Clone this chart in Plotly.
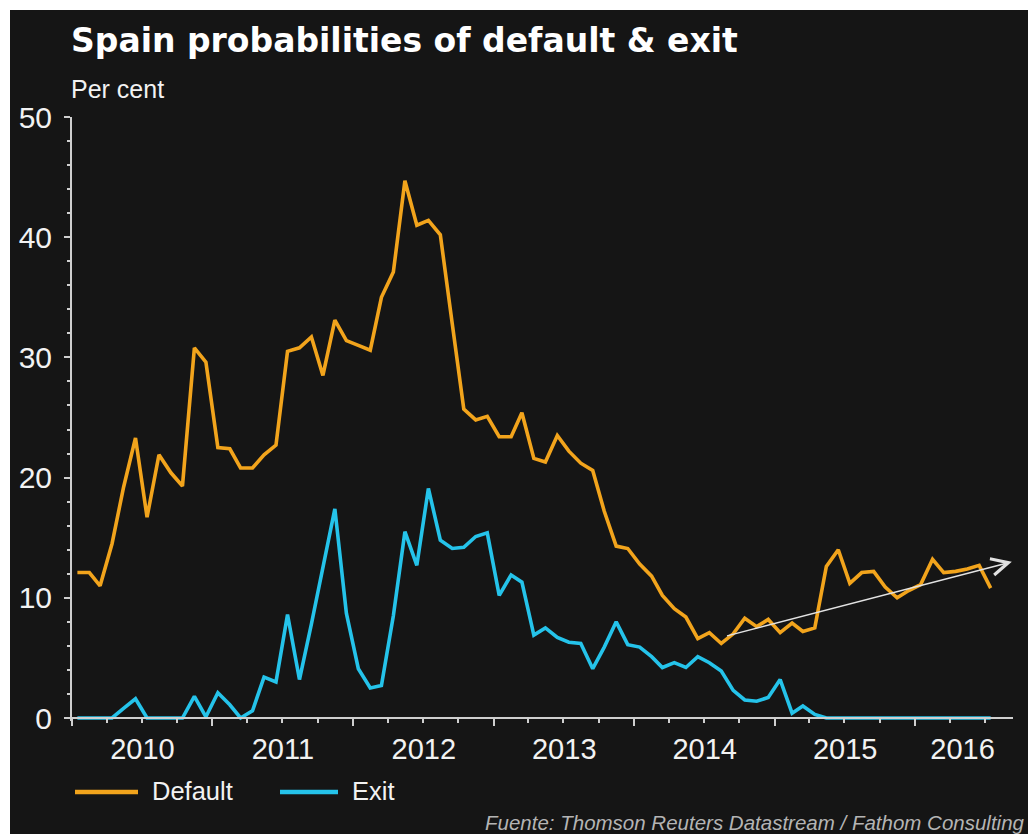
import pandas as pd
import plotly.graph_objects as go

# Monthly probabilities (per cent), Jan 2010 - Jul 2016
DEFAULT_PROB = [
    12.1, 12.1, 11.0, 14.5, 19.2, 23.3, 16.7, 21.9, 20.4, 19.3, 30.8, 29.6,
    22.5, 22.4, 20.8, 20.8, 21.9, 22.7, 30.5, 30.8, 31.7, 28.5, 33.1, 31.4,
    31.0, 30.6, 35.0, 37.1, 44.7, 41.0, 41.4, 40.2, 32.8, 25.7, 24.8, 25.1,
    23.4, 23.4, 25.4, 21.6, 21.3, 23.5, 22.2, 21.2, 20.6, 17.2, 14.3, 14.1,
    12.8, 11.8, 10.2, 9.1, 8.4, 6.6, 7.1, 6.2, 7.0, 8.3, 7.6, 8.2,
    7.1, 7.9, 7.2, 7.5, 12.6, 14.0, 11.2, 12.1, 12.2, 10.9, 10.0, 10.6,
    11.1, 13.2, 12.1, 12.2, 12.4, 12.7, 10.8,
]
EXIT_PROB = [
    0.0, 0.0, 0.0, 0.0, 0.8, 1.6, 0.0, 0.0, 0.0, 0.0, 1.8, 0.1,
    2.1, 1.1, 0.0, 0.6, 3.4, 3.0, 8.6, 3.2, 7.8, 12.4, 17.4, 8.7,
    4.1, 2.5, 2.7, 8.5, 15.5, 12.7, 19.1, 14.8, 14.1, 14.2, 15.1, 15.4,
    10.2, 11.9, 11.3, 6.9, 7.5, 6.7, 6.3, 6.2, 4.1, 5.9, 8.0, 6.1,
    5.9, 5.1, 4.2, 4.6, 4.2, 5.1, 4.6, 3.9, 2.3, 1.5, 1.4, 1.7,
    3.2, 0.4, 1.0, 0.3, 0.0, 0.0, 0.0, 0.0, 0.0, 0.0, 0.0, 0.0,
    0.0, 0.0, 0.0, 0.0, 0.0, 0.0, 0.0,
]
SERIES_NAMES = ["Default", "Exit"]

YEAR_LABELS = ["2010", "2011", "2012", "2013", "2014", "2015", "2016"]
YEAR_LABEL_DATES = ["2010-07-03", "2011-07-03", "2012-07-03", "2013-07-03",
                    "2014-07-03", "2015-07-03", "2016-05-03"]
YEAR_STARTS = ["2010-01-01", "2011-01-01", "2012-01-01", "2013-01-01",
               "2014-01-01", "2015-01-01", "2016-01-01"]
X_RANGE = ["2010-01-01", "2016-09-11"]
Y_TICKS = [0, 10, 20, 30, 40, 50]

# Trend arrow drawn over the default series (date, per cent)
ARROW_TAIL = ("2014-08-26", 6.8)
ARROW_HEAD = ("2016-09-08", 13.0)

months = pd.date_range("2010-01-01", periods=len(DEFAULT_PROB), freq="MS") + pd.Timedelta(days=14)

BG = "#151515"
ORANGE = "#F2A41C"
CYAN = "#25C3EA"
AXIS = "#cfcfcf"
TEXT = "#f2f2f2"

W, H = 1028, 834
L, R, T, B = 72, 15, 117, 113
PW, PH = W - L - R, H - T - B


def fx(px):
    return (px - L) / PW


def fy(py):
    return (H - B - py) / PH


fig = go.Figure()
fig.add_trace(go.Scatter(x=months, y=DEFAULT_PROB, name=SERIES_NAMES[0], mode="lines",
                         line=dict(color=ORANGE, width=3.6), showlegend=False))
fig.add_trace(go.Scatter(x=months, y=EXIT_PROB, name=SERIES_NAMES[1], mode="lines",
                         line=dict(color=CYAN, width=3.6), showlegend=False))
# carrier trace for the year-label axis
fig.add_trace(go.Scatter(x=YEAR_LABEL_DATES, y=[None] * len(YEAR_LABEL_DATES), xaxis="x2",
                         mode="markers", showlegend=False, hoverinfo="skip"))

x_pos = fy(718)

fig.update_layout(
    width=W, height=H,
    margin=dict(l=L, r=R, t=T, b=B),
    paper_bgcolor=BG, plot_bgcolor=BG,
    font=dict(family="Liberation Sans, Arial, sans-serif", color=TEXT),
    hovermode=False,
    xaxis=dict(
        type="date", range=X_RANGE, anchor="free", position=x_pos,
        tickmode="array", tickvals=YEAR_STARTS, ticktext=[""] * len(YEAR_STARTS),
        ticks="outside", ticklen=7, tickwidth=2, tickcolor=AXIS,
        minor=dict(dtick="M3", tick0="2010-01-01", ticks="outside", ticklen=4,
                   tickwidth=2, tickcolor=AXIS, showgrid=False),
        showline=True, linecolor=AXIS, linewidth=2, showgrid=False, zeroline=False,
    ),
    xaxis2=dict(
        type="date", range=X_RANGE, overlaying="x", anchor="free", position=x_pos,
        tickmode="array", tickvals=YEAR_LABEL_DATES, ticktext=YEAR_LABELS,
        ticks="", showline=False, showgrid=False, zeroline=False,
        tickfont=dict(size=29, color=TEXT), ticklabelstandoff=11,
    ),
    yaxis=dict(
        range=[-0.25, 50], tickmode="array", tickvals=Y_TICKS,
        ticks="outside", ticklen=6, tickwidth=2, tickcolor=AXIS,
        minor=dict(dtick=2, tick0=0, ticks="outside", ticklen=3, tickwidth=2,
                   tickcolor=AXIS, showgrid=False),
        showline=True, linecolor=AXIS, linewidth=2, showgrid=False, zeroline=False,
        tickfont=dict(size=30, color=TEXT), ticklabelstandoff=6,
    ),
)

shapes = [
    # white frame strips on the top and left edges
    dict(type="rect", xref="paper", yref="paper", x0=fx(0), x1=fx(10), y0=fy(H), y1=fy(0),
         fillcolor="white", line=dict(width=0)),
    dict(type="rect", xref="paper", yref="paper", x0=fx(0), x1=fx(W), y0=fy(10), y1=fy(0),
         fillcolor="white", line=dict(width=0)),
    # legend swatches
    dict(type="line", xref="paper", yref="paper", x0=fx(75), x1=fx(138), y0=fy(792), y1=fy(792),
         line=dict(color=ORANGE, width=4.5)),
    dict(type="line", xref="paper", yref="paper", x0=fx(280), x1=fx(338), y0=fy(792), y1=fy(792),
         line=dict(color=CYAN, width=4.5)),
]
fig.update_layout(shapes=shapes)

annotations = [
    dict(text="<b>Spain probabilities of default &amp; exit</b>", x=fx(69), y=fy(40),
         xanchor="left", yanchor="middle",
         font=dict(family="DejaVu Sans", size=33, color="white")),
    dict(text="Per cent", x=fx(69), y=fy(89), xanchor="left", yanchor="middle",
         font=dict(size=25, color=TEXT)),
    dict(text=SERIES_NAMES[0], x=fx(150), y=fy(791), xanchor="left", yanchor="middle",
         font=dict(size=25.5, color=TEXT)),
    dict(text=SERIES_NAMES[1], x=fx(350), y=fy(791), xanchor="left", yanchor="middle",
         font=dict(size=25.5, color=TEXT)),
    dict(text="<i>Fuente: Thomson Reuters Datastream / Fathom Consulting</i>",
         x=fx(483), y=fy(822), xanchor="left", yanchor="middle",
         font=dict(size=20.5, color="#b4b4b4")),
]
for a in annotations:
    a.update(xref="paper", yref="paper", showarrow=False)

annotations.append(dict(
    x=ARROW_HEAD[0], y=ARROW_HEAD[1], ax=ARROW_TAIL[0], ay=ARROW_TAIL[1],
    xref="x", yref="y", axref="x", ayref="y", text="", showarrow=True,
    arrowhead=5, arrowsize=2.2, arrowwidth=1.5, arrowcolor="#e2e2e2",
))
fig.update_layout(annotations=annotations)

fig.write_html("out.html")
